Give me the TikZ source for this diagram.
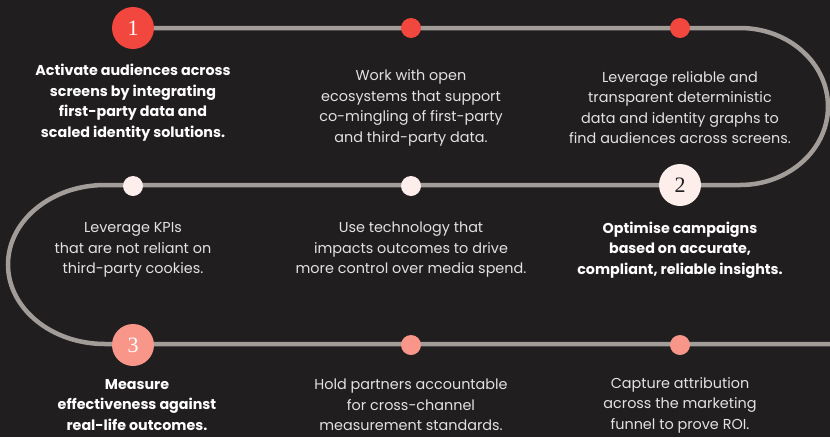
\documentclass[tikz,border=0pt]{standalone}
\usepackage{fontspec}
\setmainfont{Poppins}
\newfontfamily\numfont{Liberation Serif}
\definecolor{bgc}{HTML}{211E1F}
\definecolor{trackc}{HTML}{A39D99}
\definecolor{redc}{HTML}{F2473F}
\definecolor{palec}{HTML}{FDEEEC}
\definecolor{salmonc}{HTML}{F8968A}
\definecolor{txtc}{HTML}{E4E1E1}
\begin{document}
\begin{tikzpicture}[x=1pt,y=1pt,
  track/.style={draw=trackc,line width=4.5pt},
  bignum/.style={circle,minimum size=42pt,inner sep=0pt,font=\numfont\fontsize{22}{22}\selectfont},
  smalldot/.style={circle,minimum size=20pt,inner sep=0pt},
  desc/.style={align=center,inner sep=0pt,text=txtc,font=\fontsize{14.4}{20.5}\selectfont},
  descb/.style={desc,text=white,font=\bfseries\fontsize{14.3}{20.5}\selectfont}]
\fill[bgc] (0,0) rectangle (830,-437);
\useasboundingbox (0,0) rectangle (830,-437);
% track
\coordinate (s) at (133,-28);
\coordinate (e) at (830,-344);
\draw[track] (s) -- (740,-28) arc[start angle=90,end angle=-90,x radius=88,y radius=78.5]
  -- (105,-185) arc[start angle=90,end angle=270,x radius=97,y radius=79.5] -- (e);
% markers
\node[bignum,fill=redc,text=white] (n1) at (133,-28) {1};
\node[smalldot,fill=redc] (d12) at (411,-28) {};
\node[smalldot,fill=redc] (d13) at (680,-28) {};
\node[bignum,fill=palec,text=bgc] (n2) at (680,-185) {2};
\node[smalldot,fill=palec] (d22) at (411,-186) {};
\node[smalldot,fill=palec] (d21) at (133,-186) {};
\node[bignum,fill=salmonc,text=white] (n3) at (133,-345) {3};
\node[smalldot,fill=salmonc] (d32) at (411,-345) {};
\node[smalldot,fill=salmonc] (d33) at (680,-345) {};
% texts
\node[descb] (t11) at (133,-102.5) {Activate audiences across\\screens by integrating\\first-party data and\\scaled identity solutions.};
\node[desc] (t12) at (411,-108) {Work with open\\ecosystems that support\\co-mingling of first-party\\and third-party data.};
\node[desc] (t13) at (680,-107.5) {Leverage reliable and\\transparent deterministic\\data and identity graphs to\\find audiences across screens.};
\node[desc] (t21) at (133,-250) {Leverage KPIs\\that are not reliant on\\third-party cookies.};
\node[desc] (t22) at (411,-250) {Use technology that\\impacts outcomes to drive\\more control over media spend.};
\node[descb] (t23) at (680,-250) {Optimise campaigns\\based on accurate,\\compliant, reliable insights.};
\node[descb] (t31) at (137,-405) {Measure\\effectiveness against\\real-life outcomes.};
\node[desc] (t32) at (411,-405) {Hold partners accountable\\for cross-channel\\measurement standards.};
\node[desc] (t33) at (680,-405) {Capture attribution\\across the marketing\\funnel to prove ROI.};
\end{tikzpicture}
\end{document}
